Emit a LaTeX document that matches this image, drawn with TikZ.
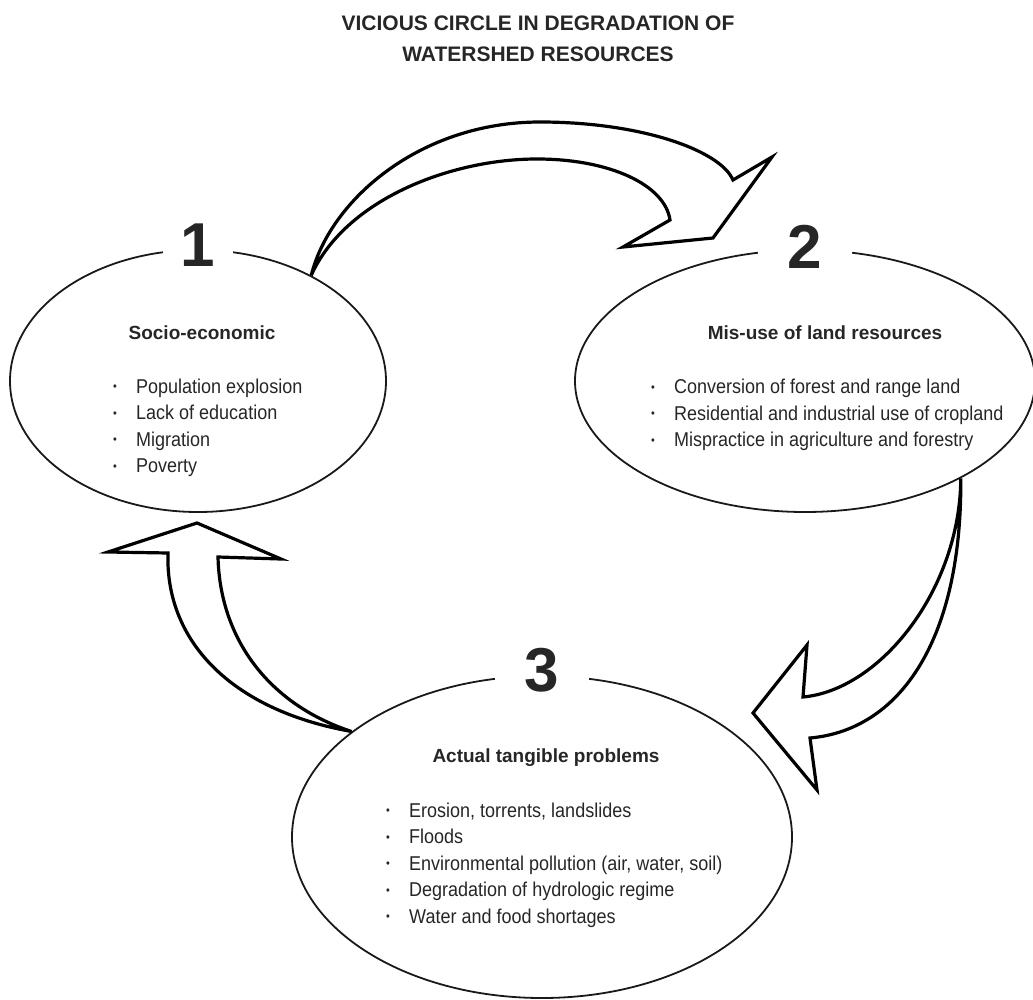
\documentclass[tikz,border=0pt]{standalone}
\usepackage{fontspec}
\setmainfont{Liberation Sans}
\newfontfamily\narrowfont[FakeStretch=0.9]{Liberation Sans}
\usetikzlibrary{shapes.geometric}

\newcommand{\bul}{\makebox[23pt][l]{\fontsize{12}{12}\selectfont\raisebox{2.5pt}{•}}}

\begin{document}
\begin{tikzpicture}[
    x=1pt,
    y=-1pt,
    every node/.style={
        text=black!85,
        inner sep=0pt
    },
    bubble/.style={
        draw=black!90,
        line width=1.8pt,
        ellipse,
        inner sep=0pt
    },
    numberlabel/.style={
        fill=white,
        font=\fontsize{62}{62}\selectfont\bfseries,
        inner xsep=30pt,
        inner ysep=2pt
    },
    headline/.style={
        font=\fontsize{19}{23}\selectfont\bfseries
    },
    itemlist/.style={
        font=\narrowfont\fontsize{20}{26.5}\selectfont,
        align=left,
        anchor=west
    },
    bigarrow/.style={
        draw=black,
        line width=3.2pt,
        line join=miter
    }
]

\useasboundingbox (0,0) rectangle (1033,1000);

\node[font=\fontsize{21}{31.5}\selectfont\bfseries, align=center] (title) at (538,39) {
    VICIOUS CIRCLE IN DEGRADATION OF\\
    WATERSHED RESOURCES
};

\node[bubble, minimum width=376pt, minimum height=262pt] (e1) at (198,381) {};
\node[bubble, minimum width=460pt, minimum height=262pt] (e2) at (805,381) {};
\node[bubble, minimum width=500pt, minimum height=322pt] (e3) at (542,837) {};

\node[numberlabel, inner xsep=18pt] (n1) at ([yshift=4pt]e1.north) {1};
\node[numberlabel] (n2) at ([yshift=2pt]e2.north) {2};
\node[numberlabel] (n3) at ([yshift=5pt]e3.north) {3};

\node[headline] (h1) at (202,333) {Socio-economic};
\node[headline] (h2) at (825,333) {Mis-use of land resources};
\node[headline] (h3) at (546,758) {Actual tangible problems};

\node[itemlist] (l1) at (113,428) {
    \bul Population explosion\\
    \bul Lack of education\\
    \bul Migration\\
    \bul Poverty
};

\node[itemlist] (l2) at (651,415) {
    \bul Conversion of forest and range land\\
    \bul Residential and industrial use of cropland\\
    \bul Mispractice in agriculture and forestry
};

\node[itemlist] (l3) at (386,865) {
    \bul Erosion, torrents, landslides\\
    \bul Floods\\
    \bul Environmental pollution (air, water, soil)\\
    \bul Degradation of hydrologic regime\\
    \bul Water and food shortages
};

\coordinate (tip12) at (713,238);
\coordinate (tip23) at (753,713);
\coordinate (tip31) at (197,523);

\draw[bigarrow]
    (e1.43)
    .. controls (330,200) and (420,122) .. (540,122)
    .. controls (640,122) and (720,150) .. (733,180)
    -- (772,157) -- (tip12) -- (623,247) -- (670,220)
    .. controls (665,185) and (610,159) .. (537,159)
    .. controls (450,159) and (345,200) .. (e1.43);

\draw[bigarrow]
    (e2.-32)
    .. controls (962,640) and (900,730) .. (810,738)
    -- (817,790) -- (tip23) -- (807,645) -- (803,697)
    .. controls (880,690) and (960,590) .. (e2.-32);

\draw[bigarrow]
    (e3.151)
    .. controls (230,710) and (165,640) .. (168,553)
    -- (108,552) -- (tip31) -- (281,559) -- (218,557)
    .. controls (220,640) and (270,705) .. (e3.151);

\end{tikzpicture}
\end{document}
